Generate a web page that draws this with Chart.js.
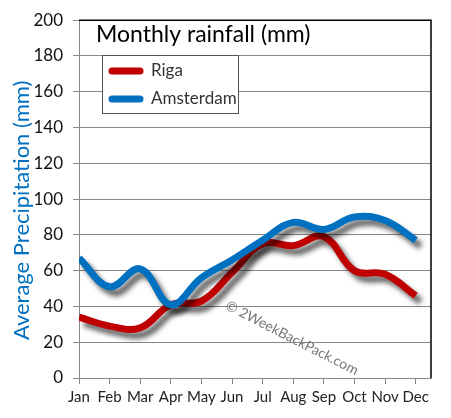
<!DOCTYPE html>
<html>
<head>
<meta charset="utf-8">
<script src="https://cdn.jsdelivr.net/npm/chart.js@4.4.1/dist/chart.umd.min.js"></script>
<style>
  html, body { margin: 0; padding: 0; background: #fff; }
  #wrap { width: 451px; height: 418px; }
</style>
</head>
<body>
<div id="wrap"><canvas id="rainChart" width="451" height="418"></canvas></div>
<script>
// chart data
const months = ['Jan', 'Feb', 'Mar', 'Apr', 'May', 'Jun', 'Jul', 'Aug', 'Sep', 'Oct', 'Nov', 'Dec'];
const rigaRain = [34, 29, 28, 41, 43, 59, 75, 74, 79, 60, 58, 46];
const amsterdamRain = [67, 51, 61, 41, 56, 66, 77, 87, 83, 90, 88, 77];
const yTicks = [0, 20, 40, 60, 80, 100, 120, 140, 160, 180, 200];

const RED = '#c00000';
const BLUE = '#0070c0';
const FONT = 'Lato, "DejaVu Sans", sans-serif';

// drop shadow under each line
const shadowPlugin = {
  id: 'lineShadow',
  beforeDatasetDraw(chart) {
    const ctx = chart.ctx;
    ctx.save();
    ctx.shadowColor = 'rgba(0,0,0,0.6)';
    ctx.shadowBlur = 5;
    ctx.shadowOffsetX = 5;
    ctx.shadowOffsetY = 6;
  },
  afterDatasetDraw(chart) {
    chart.ctx.restore();
  }
};

// watermark, frame, title and legend box
const decorPlugin = {
  id: 'decor',
  beforeDatasetsDraw(chart) {
    const ctx = chart.ctx;
    ctx.save();
    ctx.translate(292, 338);
    ctx.rotate(27 * Math.PI / 180);
    ctx.font = '14px ' + FONT;
    ctx.fillStyle = '#777';
    ctx.textAlign = 'center';
    ctx.textBaseline = 'middle';
    ctx.fillText('\u00a9 2WeekBackPack.com', 0, 0);
    ctx.restore();
  },
  afterDraw(chart) {
    const ctx = chart.ctx;
    const a = chart.chartArea;
    ctx.save();
    // top + right frame
    ctx.strokeStyle = '#000';
    ctx.lineWidth = 1.5;
    ctx.beginPath();
    ctx.moveTo(a.left, a.top);
    ctx.lineTo(a.right, a.top);
    ctx.lineTo(a.right, a.bottom);
    ctx.stroke();

    // title
    ctx.font = '23px ' + FONT;
    ctx.fillStyle = '#000';
    ctx.textBaseline = 'alphabetic';
    ctx.fillText('Monthly rainfall (mm)', 96, 42);

    // legend
    ctx.fillStyle = '#fff';
    ctx.fillRect(102.5, 55.5, 136, 58);
    ctx.strokeStyle = '#555';
    ctx.lineWidth = 1;
    ctx.strokeRect(102.5, 55.5, 136, 58);
    ctx.lineCap = 'round';
    ctx.lineWidth = 7;
    [[RED, 'Riga', 71], [BLUE, 'Amsterdam', 99]].forEach(function(it) {
      ctx.strokeStyle = it[0];
      ctx.beginPath();
      ctx.moveTo(112, it[2]);
      ctx.lineTo(140, it[2]);
      ctx.stroke();
      ctx.fillStyle = '#333';
      ctx.font = '17px ' + FONT;
      ctx.textBaseline = 'middle';
      ctx.fillText(it[1], 151, it[2]);
    });
    ctx.restore();
  }
};

new Chart(document.getElementById('rainChart'), {
  type: 'line',
  data: {
    labels: months,
    datasets: [
      {
        label: 'Riga',
        data: rigaRain.map((v, i) => ({ x: i, y: v })),
        borderColor: RED,
        borderWidth: 7,
        tension: 0.4,
        pointRadius: 0,
        fill: false,
        order: 1
      },
      {
        label: 'Amsterdam',
        data: amsterdamRain.map((v, i) => ({ x: i, y: v })),
        borderColor: BLUE,
        borderWidth: 7,
        tension: 0.4,
        pointRadius: 0,
        fill: false,
        order: 0
      }
    ]
  },
  options: {
    responsive: false,
    devicePixelRatio: 1,
    animation: false,
    layout: { padding: { top: 14, right: 20, left: 0, bottom: 0 } },
    plugins: {
      legend: { display: false },
      tooltip: { enabled: false }
    },
    scales: {
      x: {
        type: 'linear',
        min: 0,
        max: 11.5,
        afterBuildTicks: s => { s.ticks = months.map((m, i) => ({ value: i })); },
        afterFit: s => { s.height = 40; },
        border: { color: '#888', width: 1 },
        grid: { drawOnChartArea: false, drawTicks: true, tickLength: 6, color: '#888' },
        ticks: {
          autoSkip: false,
          maxRotation: 0,
          padding: 4,
          color: '#222',
          font: { family: FONT, size: 15 },
          callback: v => months[v]
        }
      },
      y: {
        min: 0,
        max: 200,
        afterBuildTicks: s => { s.ticks = yTicks.map(v => ({ value: v })); },
        afterFit: s => { s.width = 79; },
        border: { color: '#888', width: 1 },
        grid: { color: '#888', tickLength: 6, lineWidth: 1 },
        ticks: {
          padding: 10,
          color: '#111',
          font: { family: FONT, size: 17 }
        },
        title: {
          display: true,
          // trailing spaces nudge the label down a bit, like the original
          text: 'Average Precipitation (mm)    ',
          color: BLUE,
          font: { family: FONT, size: 22 },
          padding: { top: 9, bottom: 0 }
        }
      }
    }
  },
  plugins: [shadowPlugin, decorPlugin]
});
</script>
</body>
</html>
